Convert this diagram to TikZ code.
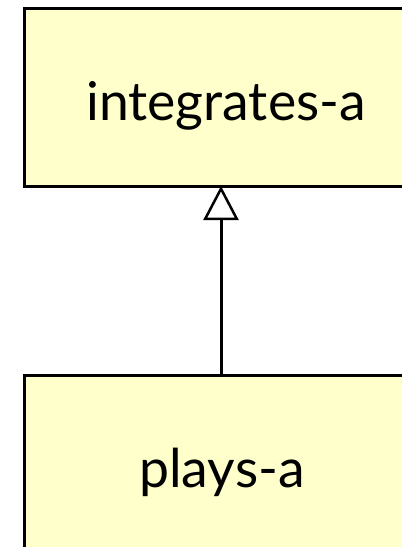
\documentclass[tikz,border=0pt]{standalone}
\usepackage{fontspec}
\setmainfont{Lato}
\usetikzlibrary{arrows.meta}
\definecolor{boxfill}{RGB}{255,255,204}
\tikzset{
  classbox/.style={draw=black, fill=boxfill, line width=3pt, minimum width=396pt, minimum height=178pt, inner sep=0pt, outer sep=0pt},
  boxtext/.style={anchor=base, inner sep=0pt, font=\fontsize{53.5}{64}\selectfont},
  inherit/.style={line width=3pt, -{Triangle[open, fill=white, length=34pt, width=35pt, line width=2.5pt]}}
}
\begin{document}
\begin{tikzpicture}[x=1pt,y=-1pt]
\useasboundingbox (0,0) rectangle (402,547);
\node[classbox] (top) at (222,97) {};
\node[classbox] (bottom) at (222,464) {};
\node[boxtext] (toptext) at (226,120) {integrates-a};
\node[boxtext] (bottomtext) at (222,487) {plays-a};
\draw[inherit] (bottom.north -| 221,0) -- (top.south -| 221,0);
\end{tikzpicture}
\end{document}
